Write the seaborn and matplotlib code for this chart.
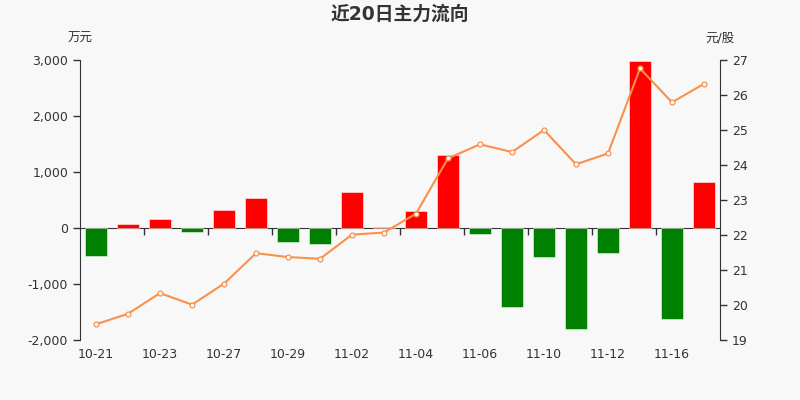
import pandas as pd
import matplotlib.pyplot as plt
import seaborn as sns
import numpy as np

dates = ["10-21", "10-22", "10-23", "10-26", "10-27", "10-28", "10-29", "10-30",
         "11-02", "11-03", "11-04", "11-05", "11-06", "11-09", "11-10", "11-11",
         "11-12", "11-13", "11-16", "11-17"]
flow = [-500, 65, 160, -80, 320, 535, -250, -280, 645, 20,
        300, 1298, -113, -1405, -524, -1798, -446, 2990, -1625, 816]
price = [19.45, 19.75, 20.34, 20.01, 20.61, 21.48, 21.37, 21.32, 22.01, 22.07,
         22.61, 24.19, 24.59, 24.37, 25.00, 24.02, 24.33, 26.76, 25.79, 26.32]

df = pd.DataFrame({"date": dates, "flow": flow, "price": price})
df["idx"] = range(len(df))
df["dir"] = np.where(df["flow"] >= 0, "in", "out")

sns.set_style("white")
plt.rcParams["font.family"] = ["DejaVu Sans", "Noto Sans CJK SC"]
txt = "#333333"
bg = "#f8f8f8"

fig = plt.figure(figsize=(8, 4), dpi=100, facecolor=bg)
ax = fig.add_axes([0.1, 0.15, 0.8, 0.7], facecolor=bg)

sns.barplot(data=df, x="idx", y="flow", hue="dir",
            palette={"in": "#ff0000", "out": "#008000"}, saturation=1,
            dodge=False, width=0.7, legend=False, ax=ax,
            edgecolor=(1, 1, 1, 0.6), linewidth=0.6)
ax.set_xlim(-0.5, 19.5)
ax.set_ylim(-2000, 3000)
ax.set_yticks([-2000, -1000, 0, 1000, 2000, 3000])
ax.set_yticklabels([f"{v:,}" for v in [-2000, -1000, 0, 1000, 2000, 3000]])
ax.set_xticks(df["idx"][::2])
ax.set_xticklabels(df["date"][::2])
ax.tick_params(axis="x", length=0, pad=6, labelsize=9, labelcolor=txt)
ax.tick_params(axis="y", length=5, width=1, color=txt, labelsize=9, labelcolor=txt)
ax.set_xlabel("")
ax.set_ylabel("")
for s in ["top", "right", "bottom"]:
    ax.spines[s].set_visible(False)
ax.spines["left"].set_color(txt)

# zero axis line with boundary ticks
zx = ax.secondary_xaxis(0.4)
zx.set_xticks(np.arange(1.5, 19, 2))
zx.set_xticklabels([])
zx.tick_params(length=5, width=1, color=txt)
zx.spines["bottom"].set_color(txt)

ax2 = ax.twinx()
sns.lineplot(data=df, x="idx", y="price", ax=ax2, color="#f7914b", linewidth=1.5,
             marker="o", markersize=3.5, markerfacecolor="white",
             markeredgecolor="#f7914b", markeredgewidth=0.9)
ax2.set_ylim(19, 27)
ax2.set_yticks(range(19, 28))
ax2.tick_params(axis="y", length=5, width=1, color=txt, labelsize=9, labelcolor=txt)
ax2.set_xlabel("")
ax2.set_ylabel("")
for s in ["top", "left", "bottom"]:
    ax2.spines[s].set_visible(False)
ax2.spines["right"].set_color(txt)

fig.text(0.5, 0.965, "近20日主力流向", ha="center", va="center",
         fontsize=13.5, fontweight="bold", color=txt)
fig.text(0.1, 0.905, "万元", ha="center", va="center", fontsize=9, color=txt)
fig.text(0.9, 0.905, "元/股", ha="center", va="center", fontsize=9, color=txt)

fig.savefig("out.png", dpi=100, facecolor=bg)
